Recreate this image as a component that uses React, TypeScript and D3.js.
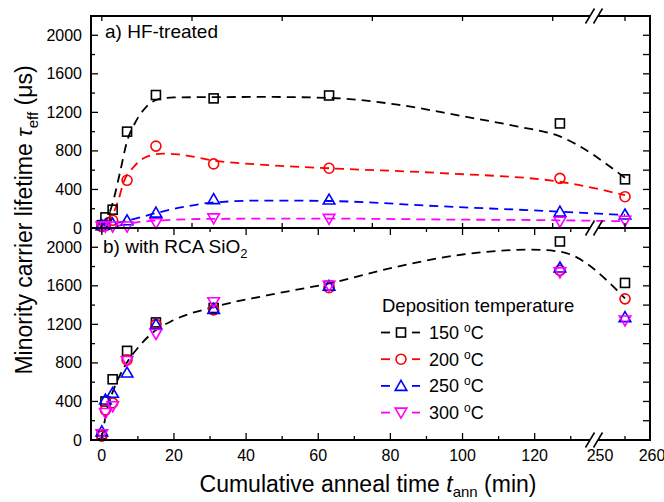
import React, { useEffect, useRef } from "react";
import * as d3 from "d3";

// cumulative anneal times (min)
const times = [0, 1, 3, 7, 15, 31, 63, 127, 255];
const temperatures = ["150", "200", "250", "300"];
const colors = ["#000000", "#ff0000", "#0000ff", "#ff00ff"];
const symbols = ["square", "circle", "up", "down"];

// a) HF-treated, lifetime in us
const hf150 = [30, 110, 190, 1000, 1380, 1345, 1375, 1085, 505];
const hf200 = [15, 30, 80, 495, 850, 665, 620, 515, 325];
const hf250 = [30, 35, 45, 80, 160, 300, 295, 170, 140];
const hf300 = [15, 15, 15, 15, 50, 100, 95, 65, 75];

// b) with RCA SiO2
const rca150 = [60, 400, 630, 925, 1220, 1370, 1600, 2060, 1630];
const rca200 = [40, 310, 385, 830, 1200, 1350, 1580, 1760, 1465];
const rca250 = [90, 420, 490, 700, 1200, 1360, 1600, 1790, 1275];
const rca300 = [60, 280, 350, 820, 1100, 1430, 1600, 1740, 1240];

// dashed guide curves: [time, lifetime]
const hfFit150 = [[0.5, 30], [2.7, 220], [5, 570], [7, 900], [9.2, 1090], [12.4, 1260], [16, 1340], [20, 1355], [31, 1358], [45, 1360], [63, 1350], [82, 1280], [100, 1160], [115, 1055], [127, 950], [255, 520]];
const hfFit200 = [[2, 30], [3, 130], [4.6, 290], [6, 470], [9, 640], [12.5, 740], [17, 772], [21, 765], [31, 700], [45, 655], [63, 620], [94, 570], [127, 480], [255, 340]];
const hfFit250 = [[0, 30], [3, 45], [8, 85], [15, 155], [23, 220], [31, 265], [45, 285], [63, 280], [94, 225], [127, 170], [255, 135]];
const hfFit300 = [[0, 5], [4, 20], [10, 60], [20, 85], [31, 95], [63, 98], [94, 88], [127, 80], [255, 70]];
const rcaFit150 = [[0, 20], [1.4, 310], [3.2, 517], [6, 742], [10.6, 983], [14.9, 1138], [19.8, 1242], [31, 1380], [45.7, 1500], [63, 1625], [82, 1800], [100, 1925], [119, 1975], [127, 1955], [255, 1470]];

const yTicks = [0, 400, 800, 1200, 1600, 2000];
const xTicksLeft = [0, 20, 40, 60, 80, 100, 120];
const xTicksRight = [250, 260];

export default function App() {
    const svgRef = useRef<SVGSVGElement>(null);

    useEffect(() => {
        const svg = d3.select(svgRef.current);
        svg.selectAll("*").remove();
        const font = "'Liberation Sans', Arial, sans-serif";

        const left = 91, right = 650, top = 16, mid = 228, bottom = 440;
        const xLeft = d3.scaleLinear().domain([-3, 137]).range([left, 596]);
        const xRight = d3.scaleLinear().domain([249, 260]).range([595, right]);
        const x = (t: number) => (t < 200 ? xLeft(t) : xRight(t));
        const yA = d3.scaleLinear().domain([0, 2200]).range([mid, top]);
        const yB = d3.scaleLinear().domain([0, 2200]).range([bottom, mid]);

        const panels = [
            { y: yA, series: [hf150, hf200, hf250, hf300], fits: [hfFit150, hfFit200, hfFit250, hfFit300] },
            { y: yB, series: [rca150, rca200, rca250, rca300], fits: [rcaFit150] },
        ];

        const marker = (g, kind, cx, cy, color) => {
            if (kind === "square") {
                g.append("rect").attr("x", cx - 4.5).attr("y", cy - 4.5).attr("width", 9).attr("height", 9)
                    .attr("fill", "none").attr("stroke", color).attr("stroke-width", 1.6);
            } else if (kind === "circle") {
                g.append("circle").attr("cx", cx).attr("cy", cy).attr("r", 5)
                    .attr("fill", "none").attr("stroke", color).attr("stroke-width", 1.6);
            } else {
                const s = kind === "up" ? 1 : -1;
                const p = d3.path();
                p.moveTo(cx, cy - 5.5 * s);
                p.lineTo(cx + 5.8, cy + 4.5 * s);
                p.lineTo(cx - 5.8, cy + 4.5 * s);
                p.closePath();
                g.append("path").attr("d", p.toString())
                    .attr("fill", "none").attr("stroke", color).attr("stroke-width", 1.6);
            }
        };

        panels.forEach(panel => {
            const line = d3.line<number[]>()
                .curve(d3.curveMonotoneX)
                .x(d => x(d[0]))
                .y(d => panel.y(d[1]));
            panel.fits.forEach((fit, i) => {
                svg.append("path")
                    .datum(fit)
                    .attr("fill", "none")
                    .attr("stroke", colors[i])
                    .attr("stroke-width", 1.8)
                    .attr("stroke-dasharray", "9,6")
                    .attr("d", line);
            });
            panel.series.forEach((vals, i) => {
                const g = svg.append("g");
                vals.forEach((v, k) => marker(g, symbols[i], x(times[k]), panel.y(v), colors[i]));
            });
        });

        // frame
        const ax = svg.append("g").attr("stroke", "#000").attr("stroke-width", 2).attr("fill", "none");
        ax.append("rect").attr("x", left).attr("y", top).attr("width", right - left).attr("height", bottom - top);
        ax.append("line").attr("x1", left).attr("x2", right).attr("y1", mid).attr("y2", mid);

        const ticks = svg.append("g").attr("stroke", "#000").attr("stroke-width", 1.3);
        const tick = (x1, y1, x2, y2) => ticks.append("line").attr("x1", x1).attr("y1", y1).attr("x2", x2).attr("y2", y2);

        // y ticks, both panels
        [yA, yB].forEach(y => {
            d3.range(200, 2200, 200).forEach(v => {
                const len = v % 400 === 0 ? 7 : 4;
                tick(left, y(v), left + len, y(v));
                tick(right, y(v), right - 7, y(v));
            });
            yTicks.forEach(v => {
                svg.append("text")
                    .attr("x", 82).attr("y", y(v) + 5.5)
                    .attr("text-anchor", "end")
                    .attr("font-family", font).attr("font-size", 16)
                    .text(v);
            });
        });

        // x ticks: bottom of panel b and its top edge (every 10 min)
        const bTicks = d3.range(0, 131, 10).map(t => [x(t), t % 20 === 0 ? 7 : 4]).concat([[x(255), 4]]);
        bTicks.forEach(([px, len]) => {
            tick(px, bottom, px, bottom - len);
            tick(px, mid, px, mid + len);
        });
        // panel a ticks (every 25 min)
        d3.range(0, 126, 25).concat([255]).forEach(t => {
            tick(x(t), top, x(t), top + 5);
            tick(x(t), mid, x(t), mid - 5);
        });

        xTicksLeft.concat(xTicksRight).forEach(t => {
            svg.append("text")
                .attr("x", t === 260 ? right + 2 : x(t)).attr("y", 461)
                .attr("text-anchor", "middle")
                .attr("font-family", font).attr("font-size", 16)
                .text(t);
        });

        // axis break marks
        [top, mid, bottom].forEach(yy => {
            svg.append("rect").attr("x", 590).attr("y", yy - 2.5).attr("width", 8).attr("height", 5).attr("fill", "#fff");
            [590, 598].forEach(cx => {
                svg.append("line")
                    .attr("x1", cx - 4.5).attr("y1", yy + 7.5)
                    .attr("x2", cx + 4.5).attr("y2", yy - 7.5)
                    .attr("stroke", "#000").attr("stroke-width", 1.5);
            });
        });

        // panel labels
        svg.append("text")
            .attr("x", 105).attr("y", 38)
            .attr("font-family", font).attr("font-size", 19)
            .text("a) HF-treated");
        const lb = svg.append("text")
            .attr("x", 103).attr("y", 253)
            .attr("font-family", font).attr("font-size", 19);
        lb.append("tspan").text("b) with RCA SiO");
        lb.append("tspan").attr("font-size", 13).attr("dy", 5).text("2");

        // axis titles
        const yt = svg.append("text")
            .attr("transform", "translate(32,220) rotate(-90)")
            .attr("text-anchor", "middle")
            .attr("font-family", font).attr("font-size", 23);
        yt.append("tspan").text("Minority carrier lifetime ");
        yt.append("tspan").attr("font-style", "italic").text("τ");
        yt.append("tspan").attr("font-size", 15).attr("dy", 6).text("eff");
        yt.append("tspan").attr("dy", -6).text(" (μs)");

        const xt = svg.append("text")
            .attr("x", 368).attr("y", 492)
            .attr("text-anchor", "middle")
            .attr("font-family", font).attr("font-size", 23);
        xt.append("tspan").text("Cumulative anneal time ");
        xt.append("tspan").attr("font-style", "italic").text("t");
        xt.append("tspan").attr("font-size", 15).attr("dy", 4.5).text("ann");
        xt.append("tspan").attr("dy", -4.5).text(" (min)");

        // legend
        svg.append("text")
            .attr("x", 382).attr("y", 312)
            .attr("font-family", font).attr("font-size", 18.5)
            .text("Deposition temperature");
        temperatures.forEach((t, i) => {
            const cy = 332.5 + i * 26.7;
            const g = svg.append("g");
            g.append("line").attr("x1", 381).attr("x2", 390).attr("y1", cy).attr("y2", cy)
                .attr("stroke", colors[i]).attr("stroke-width", 1.8);
            g.append("line").attr("x1", 412).attr("x2", 420).attr("y1", cy).attr("y2", cy)
                .attr("stroke", colors[i]).attr("stroke-width", 1.8);
            marker(g, symbols[i], 401, cy, colors[i]);
            const tx = g.append("text")
                .attr("x", 429).attr("y", cy + 6.5)
                .attr("font-family", font).attr("font-size", 18);
            tx.append("tspan").text(t + " ");
            tx.append("tspan").attr("font-size", 12).attr("dy", -7).text("o");
            tx.append("tspan").attr("dy", 7).text("C");
        });
    }, []);

    return (
        <svg ref={svgRef} width={664} height={502}
            style={{ position: "absolute", left: 0, top: 0, background: "#fff" }} />
    );
}
